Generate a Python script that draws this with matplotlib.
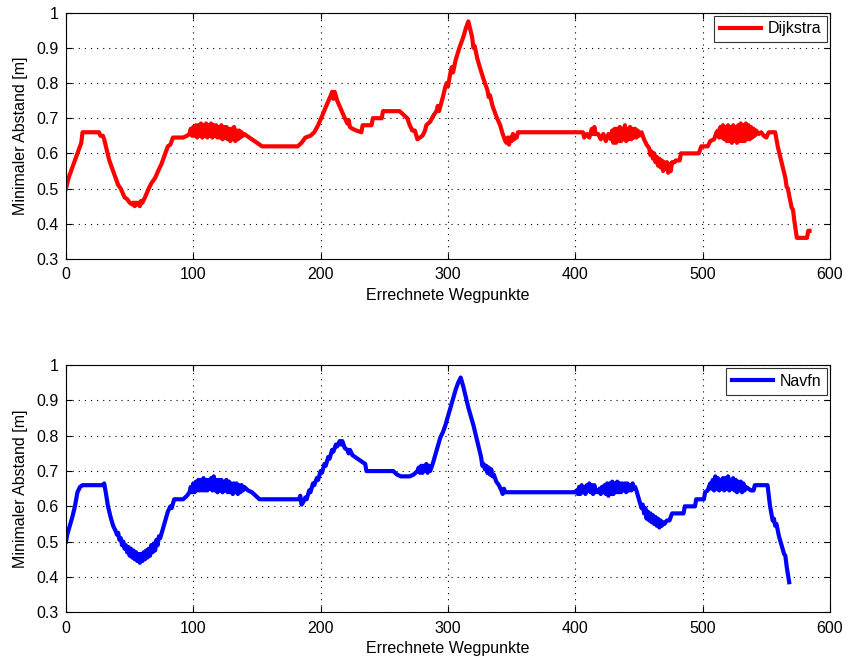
import matplotlib
matplotlib.use('Agg')
import matplotlib.pyplot as plt
from matplotlib.ticker import FormatStrFormatter

plt.rcParams['font.family'] = ['Liberation Sans', 'DejaVu Sans']

dijkstra_pts = [
    (0, 0.50), (2, 0.53), (5, 0.56), (9, 0.60), (12, 0.63), (13, 0.66), (26, 0.66), (27, 0.65),
    (29, 0.65), (30, 0.64), (32, 0.61), (34, 0.58), (37, 0.55), (41, 0.51), (43, 0.50), (46, 0.475),
    (48, 0.47), (50, 0.46), (52, 0.455), (53, 0.46), (54, 0.45), (55, 0.46), (56, 0.455), (57, 0.46),
    (58, 0.45), (59, 0.465), (60, 0.46), (62, 0.475), (65, 0.50), (67, 0.515), (70, 0.53), (73, 0.555),
    (75, 0.57), (78, 0.60), (80, 0.62), (82, 0.625), (84, 0.645), (92, 0.645), (95, 0.65),
    (97, 0.655), (98, 0.67), (99, 0.65), (100, 0.675), (101, 0.65), (102, 0.68), (103, 0.645),
    (104, 0.68), (105, 0.65), (106, 0.685), (107, 0.645), (108, 0.68), (109, 0.65), (110, 0.685),
    (111, 0.645), (112, 0.68), (113, 0.65), (114, 0.685), (115, 0.645), (116, 0.68), (117, 0.65),
    (118, 0.68), (119, 0.645), (120, 0.675), (121, 0.645), (122, 0.68), (123, 0.64), (124, 0.675),
    (125, 0.645), (126, 0.675), (127, 0.64), (128, 0.67), (129, 0.635), (130, 0.67), (131, 0.64),
    (132, 0.675), (133, 0.635), (134, 0.665), (135, 0.64), (136, 0.665), (137, 0.645), (138, 0.66),
    (139, 0.65), (140, 0.655), (142, 0.65), (146, 0.64), (150, 0.63), (154, 0.62), (182, 0.62),
    (185, 0.63), (188, 0.645), (192, 0.65), (195, 0.66), (198, 0.68), (201, 0.705), (205, 0.74),
    (208, 0.765), (209, 0.775), (210, 0.755), (211, 0.775), (213, 0.75), (216, 0.725), (219, 0.70),
    (221, 0.685), (222, 0.695), (223, 0.675), (225, 0.67), (228, 0.665), (232, 0.66), (233, 0.68),
    (240, 0.68), (241, 0.70), (248, 0.70), (249, 0.72), (262, 0.72), (265, 0.71), (268, 0.70),
    (270, 0.68), (272, 0.665), (274, 0.665), (276, 0.64), (278, 0.645), (280, 0.65), (282, 0.665),
    (283, 0.68), (286, 0.69), (289, 0.71), (291, 0.72), (292, 0.735), (293, 0.72), (296, 0.76),
    (298, 0.79), (299, 0.80), (300, 0.79), (302, 0.83), (303, 0.845), (304, 0.83), (306, 0.865),
    (309, 0.90), (312, 0.93), (314, 0.955), (316, 0.975), (317, 0.96), (319, 0.93), (320, 0.90),
    (321, 0.905), (323, 0.87), (325, 0.845), (328, 0.81), (331, 0.78), (332, 0.76), (333, 0.765),
    (335, 0.735), (338, 0.705), (341, 0.68), (343, 0.655), (345, 0.635), (346, 0.63), (347, 0.645),
    (348, 0.625), (349, 0.645), (350, 0.635), (351, 0.655), (352, 0.64), (353, 0.65), (354, 0.645),
    (355, 0.66), (406, 0.66), (407, 0.645), (409, 0.655), (411, 0.645), (413, 0.67), (414, 0.655),
    (415, 0.675), (416, 0.655), (418, 0.655), (420, 0.64), (422, 0.655), (424, 0.635), (426, 0.655),
    (428, 0.64), (429, 0.665), (430, 0.63), (431, 0.67), (432, 0.63), (433, 0.67), (434, 0.635),
    (435, 0.675), (436, 0.635), (437, 0.67), (438, 0.64), (439, 0.68), (440, 0.635), (441, 0.67),
    (442, 0.64), (443, 0.675), (444, 0.64), (445, 0.67), (446, 0.645), (447, 0.67), (448, 0.645),
    (449, 0.665), (450, 0.65), (452, 0.66), (454, 0.64), (456, 0.625), (458, 0.615), (459, 0.595),
    (460, 0.605), (461, 0.585), (462, 0.60), (463, 0.575), (464, 0.59), (465, 0.565), (466, 0.585),
    (467, 0.56), (468, 0.58), (469, 0.55), (470, 0.575), (471, 0.555), (472, 0.575), (473, 0.545),
    (474, 0.57), (475, 0.55), (476, 0.575), (478, 0.575), (479, 0.58), (482, 0.58), (483, 0.60),
    (497, 0.60), (499, 0.62), (504, 0.62), (506, 0.635), (509, 0.64), (511, 0.66), (512, 0.665),
    (513, 0.645), (514, 0.675), (515, 0.645), (516, 0.68), (517, 0.64), (518, 0.675), (519, 0.635),
    (520, 0.68), (521, 0.635), (522, 0.675), (523, 0.63), (524, 0.68), (525, 0.635), (526, 0.675),
    (527, 0.63), (528, 0.68), (529, 0.635), (530, 0.685), (531, 0.635), (532, 0.68), (533, 0.635),
    (534, 0.685), (535, 0.64), (536, 0.68), (537, 0.64), (538, 0.675), (539, 0.645), (540, 0.67),
    (541, 0.65), (542, 0.665), (544, 0.655), (546, 0.66), (548, 0.65), (550, 0.645), (552, 0.66),
    (557, 0.66), (559, 0.62), (561, 0.59), (563, 0.56), (565, 0.53), (566, 0.505), (567, 0.50),
    (568, 0.48), (570, 0.445), (571, 0.44), (572, 0.41), (574, 0.36), (582, 0.36), (583, 0.38),
    (584, 0.38),
]

navfn_pts = [
    (0, 0.50), (1, 0.52), (3, 0.545), (5, 0.57), (7, 0.60), (9, 0.64), (11, 0.655), (13, 0.66),
    (29, 0.66), (30, 0.665), (31, 0.645), (33, 0.60), (35, 0.57), (37, 0.545), (39, 0.53), (40, 0.52),
    (41, 0.525), (42, 0.505), (43, 0.51), (44, 0.49), (45, 0.50), (46, 0.48), (47, 0.49), (48, 0.47),
    (49, 0.485), (50, 0.46), (51, 0.48), (52, 0.455), (53, 0.475), (54, 0.45), (55, 0.47), (56, 0.445),
    (57, 0.465), (58, 0.44), (59, 0.465), (60, 0.445), (61, 0.47), (62, 0.45), (63, 0.475), (64, 0.455),
    (65, 0.48), (66, 0.46), (67, 0.49), (68, 0.47), (69, 0.495), (70, 0.475), (71, 0.505), (72, 0.49),
    (73, 0.515), (74, 0.51), (76, 0.535), (78, 0.56), (80, 0.585), (82, 0.60), (83, 0.595), (85, 0.62),
    (92, 0.62), (95, 0.63), (97, 0.64), (98, 0.655), (99, 0.64), (100, 0.665), (101, 0.64), (102, 0.67),
    (103, 0.645), (104, 0.675), (105, 0.645), (106, 0.675), (107, 0.645), (108, 0.68), (109, 0.645),
    (110, 0.675), (111, 0.645), (112, 0.675), (113, 0.65), (114, 0.68), (115, 0.645), (116, 0.685),
    (117, 0.645), (118, 0.675), (119, 0.64), (120, 0.675), (121, 0.645), (122, 0.675), (123, 0.64),
    (124, 0.67), (125, 0.645), (126, 0.675), (127, 0.64), (128, 0.67), (129, 0.64), (130, 0.665),
    (131, 0.635), (132, 0.665), (133, 0.64), (134, 0.665), (135, 0.635), (136, 0.66), (137, 0.64),
    (138, 0.66), (139, 0.645), (140, 0.655), (143, 0.645), (146, 0.64), (149, 0.63), (152, 0.62),
    (183, 0.62), (184, 0.63), (185, 0.605), (186, 0.61), (188, 0.625), (189, 0.62), (191, 0.645),
    (192, 0.64), (194, 0.665), (195, 0.66), (197, 0.68), (198, 0.675), (200, 0.70), (201, 0.695),
    (203, 0.72), (204, 0.715), (206, 0.74), (207, 0.735), (209, 0.76), (210, 0.755), (212, 0.775),
    (213, 0.77), (215, 0.785), (216, 0.775), (217, 0.785), (219, 0.765), (221, 0.76), (222, 0.75),
    (223, 0.76), (225, 0.745), (227, 0.74), (229, 0.735), (231, 0.73), (233, 0.725), (235, 0.72),
    (236, 0.70), (257, 0.70), (260, 0.69), (263, 0.685), (270, 0.685), (273, 0.69), (276, 0.70),
    (277, 0.71), (278, 0.695), (279, 0.715), (280, 0.695), (281, 0.715), (282, 0.70), (283, 0.72),
    (284, 0.695), (285, 0.715), (286, 0.70), (288, 0.72), (290, 0.745), (292, 0.77), (294, 0.795),
    (296, 0.81), (298, 0.83), (300, 0.855), (302, 0.88), (304, 0.905), (306, 0.93), (308, 0.95),
    (310, 0.965), (312, 0.94), (314, 0.91), (316, 0.88), (318, 0.855), (320, 0.83), (322, 0.80),
    (324, 0.77), (326, 0.74), (327, 0.715), (328, 0.72), (329, 0.705), (330, 0.715), (331, 0.695),
    (332, 0.71), (333, 0.69), (334, 0.705), (335, 0.685), (336, 0.69), (338, 0.67), (340, 0.66),
    (342, 0.645), (343, 0.635), (344, 0.65), (345, 0.64), (400, 0.64), (401, 0.645), (402, 0.635),
    (403, 0.655), (404, 0.635), (405, 0.66), (406, 0.64), (407, 0.655), (408, 0.635), (409, 0.66),
    (410, 0.645), (411, 0.665), (412, 0.64), (413, 0.66), (414, 0.635), (415, 0.66), (416, 0.64),
    (417, 0.645), (418, 0.64), (419, 0.65), (420, 0.635), (421, 0.655), (422, 0.64), (423, 0.66),
    (424, 0.635), (425, 0.665), (426, 0.63), (427, 0.665), (428, 0.635), (429, 0.67), (430, 0.635),
    (431, 0.665), (432, 0.64), (433, 0.67), (434, 0.64), (435, 0.665), (436, 0.64), (437, 0.665),
    (438, 0.645), (439, 0.665), (440, 0.64), (441, 0.665), (442, 0.645), (443, 0.66), (444, 0.645),
    (445, 0.665), (446, 0.65), (447, 0.655), (448, 0.645), (450, 0.62), (452, 0.595), (453, 0.605),
    (454, 0.58), (455, 0.595), (456, 0.565), (457, 0.585), (458, 0.56), (459, 0.58), (460, 0.555),
    (461, 0.575), (462, 0.55), (463, 0.57), (464, 0.545), (465, 0.565), (466, 0.54), (467, 0.56),
    (468, 0.545), (469, 0.555), (470, 0.55), (472, 0.56), (474, 0.56), (476, 0.58), (485, 0.58),
    (486, 0.60), (494, 0.60), (495, 0.62), (501, 0.62), (502, 0.64), (504, 0.645), (506, 0.665),
    (507, 0.65), (508, 0.675), (509, 0.645), (510, 0.685), (511, 0.65), (512, 0.68), (513, 0.645),
    (514, 0.675), (515, 0.65), (516, 0.68), (517, 0.645), (518, 0.68), (519, 0.65), (520, 0.685),
    (521, 0.645), (522, 0.675), (523, 0.65), (524, 0.68), (525, 0.645), (526, 0.675), (527, 0.64),
    (528, 0.67), (529, 0.645), (530, 0.67), (531, 0.64), (532, 0.665), (533, 0.645), (534, 0.655),
    (536, 0.65), (538, 0.645), (540, 0.645), (541, 0.66), (551, 0.66), (553, 0.60), (555, 0.56),
    (556, 0.565), (557, 0.545), (558, 0.55), (560, 0.515), (562, 0.49), (564, 0.465), (565, 0.46),
    (566, 0.43), (568, 0.385),
]

series = [('Dijkstra', dijkstra_pts, 'red'), ('Navfn', navfn_pts, 'blue')]
x_ticks = [0, 100, 200, 300, 400, 500, 600]
y_ticks = [0.3, 0.4, 0.5, 0.6, 0.7, 0.8, 0.9, 1.0]

fig = plt.figure(figsize=(8.46, 6.64), dpi=100)
axes_rects = [[0.078, 0.610, 0.903, 0.371], [0.078, 0.078, 0.903, 0.372]]

for rect, (name, pts, color) in zip(axes_rects, series):
    ax = fig.add_axes(rect)
    xs = [p[0] for p in pts]
    ys = [p[1] for p in pts]
    ax.plot(xs, ys, color=color, linewidth=3.0, label=name)
    ax.set_xlim(0, 600)
    ax.set_ylim(0.3, 1.0)
    ax.set_xticks(x_ticks)
    ax.set_yticks(y_ticks)
    ax.yaxis.set_major_formatter(FormatStrFormatter('%g'))
    ax.grid(True, linestyle=(0, (1, 4.5)), color='black', linewidth=0.8)
    ax.tick_params(direction='in', top=True, right=True, labelsize=11.5, length=4)
    ax.tick_params(axis='x', pad=6)
    ax.tick_params(axis='y', pad=5)
    ax.set_xlabel('Errechnete Wegpunkte', fontsize=11.5, labelpad=4)
    ax.set_ylabel('Minimaler Abstand [m]', fontsize=11.5, labelpad=6)
    leg = ax.legend(loc='upper right', fontsize=11.5, fancybox=False, framealpha=1,
                    edgecolor='#333333', handlelength=2.6, handletextpad=0.4,
                    borderpad=0.35, borderaxespad=0.2)
    leg.get_frame().set_linewidth(0.8)

fig.savefig('out.png', dpi=100)
